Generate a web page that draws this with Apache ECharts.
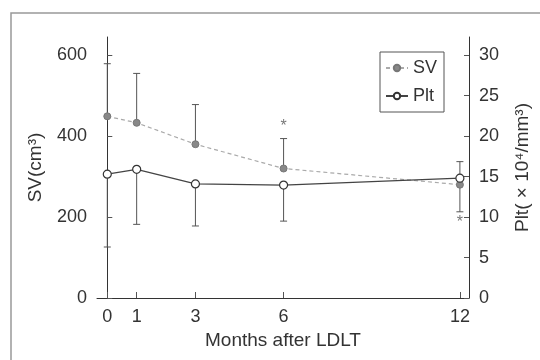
<!DOCTYPE html>
<html>
<head>
<meta charset="utf-8">
<script src="https://cdn.jsdelivr.net/npm/echarts@6/dist/echarts.min.js"></script>
<style>
  html, body { margin: 0; padding: 0; background: #fff; }
  #chart { width: 540px; height: 360px; }
</style>
</head>
<body>
<div id="chart"></div>
<script>
// data
var months = [0, 1, 3, 6, 12]
var svMean = [449, 433, 380, 320, 280]
var svUpper = [579, 555, 478, 394, 337]
var pltMean = [15.3, 15.9, 14.1, 13.95, 14.8]
var pltLower = [6.3, 9.1, 8.9, 9.5, 10.65]
var svTicks = [0, 200, 400, 600]
var pltTicks = [0, 5, 10, 15, 20, 25, 30]
// significance marks: [month, value on SV axis]
var starsSV = [[6, 423]]
var starsPlt = [[12, 9.3]]

var font = 'Liberation Sans, Arial, DejaVu Sans, sans-serif'
var chart = echarts.init(document.getElementById('chart'))

function pairs(xs, ys) {
  return xs.map(function(x, i) { return [x, ys[i]] })
}

function errRender(params, api) {
  var x = api.value(0)
  var p1 = api.coord([x, api.value(1)])
  var p2 = api.coord([x, api.value(2)])
  var cap = 3.5
  var st = { stroke: '#555', lineWidth: 1 }
  return {
    type: 'group',
    children: [
      { type: 'line', shape: { x1: p1[0], y1: p1[1], x2: p2[0], y2: p2[1] }, style: st },
      { type: 'line', shape: { x1: p2[0] - cap, y1: p2[1], x2: p2[0] + cap, y2: p2[1] }, style: st }
    ]
  }
}

var starLabel = {
  show: true,
  position: 'inside',
  formatter: '*',
  color: '#555',
  fontSize: 16,
  fontFamily: font
}

var option = {
  backgroundColor: '#fff',
  animation: false,
  graphic: [{
    type: 'rect',
    shape: { x: 11, y: 13, width: 600, height: 400 },
    style: { fill: 'none', stroke: '#999', lineWidth: 1.5 },
    silent: true
  }],
  grid: { left: 97, right: 69, top: 37, bottom: 62 },
  legend: {
    orient: 'vertical',
    left: 380,
    top: 52,
    data: ['SV', 'Plt'],
    borderColor: '#555',
    borderWidth: 1,
    padding: [7, 7, 7, 5],
    itemWidth: 22,
    itemHeight: 8,
    itemGap: 10,
    textStyle: { fontSize: 18, color: '#333', fontFamily: font }
  },
  xAxis: {
    type: 'value',
    min: -0.35,
    max: 12.31,
    name: 'Months after LDLT',
    nameLocation: 'middle',
    nameGap: 30,
    nameTextStyle: { fontSize: 19, color: '#333', fontFamily: font },
    splitLine: { show: false },
    axisLine: { lineStyle: { color: '#333', width: 1 } },
    axisTick: { inside: true, length: 6, customValues: months, lineStyle: { color: '#555' } },
    axisLabel: { customValues: months, margin: 10, fontSize: 18, color: '#333', fontFamily: font }
  },
  yAxis: [
    {
      type: 'value',
      min: 0,
      max: 645,
      name: 'SV(cm³)',
      nameLocation: 'middle',
      nameRotate: 90,
      nameGap: 52,
      nameTextStyle: { fontSize: 19, color: '#333', fontFamily: font },
      splitLine: { show: false },
      axisLine: { show: true, lineStyle: { color: '#333', width: 1 } },
      axisTick: { inside: true, length: 5, customValues: svTicks, lineStyle: { color: '#555' } },
      axisLabel: { customValues: svTicks, margin: 10, fontSize: 18, color: '#333', fontFamily: font }
    },
    {
      type: 'value',
      min: 0,
      max: 32.25,
      position: 'right',
      name: 'Plt( × 10⁴/mm³)',
      nameLocation: 'middle',
      nameRotate: 90,
      nameGap: 44,
      nameTextStyle: { fontSize: 19, color: '#333', fontFamily: font },
      splitLine: { show: false },
      axisLine: { show: true, lineStyle: { color: '#333', width: 1 } },
      axisTick: { inside: true, length: 5, customValues: pltTicks, lineStyle: { color: '#555' } },
      axisLabel: { customValues: pltTicks, margin: 10, fontSize: 18, color: '#333', fontFamily: font }
    }
  ],
  series: [
    {
      type: 'custom',
      name: 'svErr',
      yAxisIndex: 0,
      renderItem: errRender,
      data: months.map(function(m, i) { return [m, svMean[i], svUpper[i]] }),
      z: 1
    },
    {
      type: 'custom',
      name: 'pltErr',
      yAxisIndex: 1,
      renderItem: errRender,
      data: months.map(function(m, i) { return [m, pltMean[i], pltLower[i]] }),
      z: 1
    },
    {
      name: 'SV',
      type: 'line',
      yAxisIndex: 0,
      data: pairs(months, svMean),
      symbol: 'circle',
      symbolSize: 7,
      itemStyle: { color: '#888', borderColor: '#777', borderWidth: 1 },
      lineStyle: { color: '#aaa', width: 1.2, type: [4, 3] },
      z: 3
    },
    {
      name: 'Plt',
      type: 'line',
      yAxisIndex: 1,
      data: pairs(months, pltMean),
      symbol: 'circle',
      symbolSize: 8,
      itemStyle: { color: '#fff', borderColor: '#333', borderWidth: 1.2 },
      lineStyle: { color: '#444', width: 1.2 },
      z: 4
    },
    {
      type: 'scatter',
      yAxisIndex: 0,
      data: starsSV,
      symbolSize: 1,
      itemStyle: { color: 'rgba(0,0,0,0)' },
      label: starLabel
    },
    {
      type: 'scatter',
      yAxisIndex: 1,
      data: starsPlt,
      symbolSize: 1,
      itemStyle: { color: 'rgba(0,0,0,0)' },
      label: starLabel
    }
  ]
}

chart.setOption(option)
window.addEventListener('resize', function() {
  chart.resize()
})
</script>
</body>
</html>
